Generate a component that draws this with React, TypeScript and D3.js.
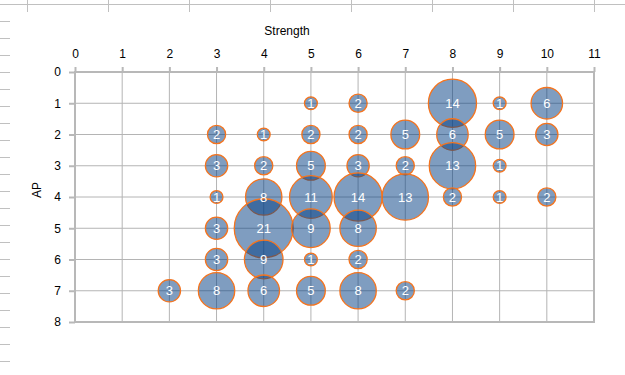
import React, { useEffect, useRef } from "react";
import * as d3 from "d3";

// bubble data: strength (x), AP (y), count
const strength = [5, 6, 8, 9, 10, 3, 4, 5, 6, 7, 8, 9, 10, 3, 4, 5, 6, 7, 8, 9, 3, 4, 5, 6, 7, 8, 9, 10, 3, 4, 5, 6, 3, 4, 5, 6, 2, 3, 4, 5, 6, 7];
const ap = [1, 1, 1, 1, 1, 2, 2, 2, 2, 2, 2, 2, 2, 3, 3, 3, 3, 3, 3, 3, 4, 4, 4, 4, 4, 4, 4, 4, 5, 5, 5, 5, 6, 6, 6, 6, 7, 7, 7, 7, 7, 7];
const counts = [1, 2, 14, 1, 6, 2, 1, 2, 2, 5, 6, 5, 3, 3, 2, 5, 3, 2, 13, 1, 1, 8, 11, 14, 13, 2, 1, 2, 3, 21, 9, 8, 3, 9, 1, 2, 3, 8, 6, 5, 8, 2];

const xTicks = [0, 1, 2, 3, 4, 5, 6, 7, 8, 9, 10, 11];
const yTicks = [0, 1, 2, 3, 4, 5, 6, 7, 8];

export default function App() {
  const ref = useRef<SVGSVGElement>(null);

  useEffect(() => {
    const svg = d3.select(ref.current);
    svg.selectAll("*").remove();

    const width = 625;
    const height = 375;
    const left = 75, right = 594, top = 72, bottom = 322;
    const font = "Liberation Sans, Arial, sans-serif";

    // spreadsheet-like background marks
    svg.append("line").attr("x1", 0).attr("x2", width).attr("y1", 4.5).attr("y2", 4.5)
      .attr("stroke", "#c0c0c0");
    svg.selectAll(".colmark").data(d3.range(27, width, 81)).enter().append("line")
      .attr("x1", (d) => d + 0.5).attr("x2", (d) => d + 0.5).attr("y1", 0).attr("y2", 12)
      .attr("stroke", "#c0c0c0");
    svg.selectAll(".rowmark").data(d3.range(21, height, 17)).enter().append("line")
      .attr("x1", 0).attr("x2", 10).attr("y1", (d) => d + 0.5).attr("y2", (d) => d + 0.5)
      .attr("stroke", "#c0c0c0");

    const x = d3.scaleLinear().domain([0, 11]).range([left, right]);
    const y = d3.scaleLinear().domain([0, 8]).range([top, bottom]);
    const r = d3.scaleSqrt().domain([0, 21]).range([0, 29.5]);

    const g = svg.append("g");

    // grid
    g.selectAll(".vgrid").data(xTicks.slice(1, -1)).enter().append("line")
      .attr("x1", (d) => x(d)).attr("x2", (d) => x(d)).attr("y1", top).attr("y2", bottom)
      .attr("stroke", "#b4b4b4");
    g.selectAll(".hgrid").data(yTicks.slice(1, -1)).enter().append("line")
      .attr("x1", left).attr("x2", right).attr("y1", (d) => y(d)).attr("y2", (d) => y(d))
      .attr("stroke", "#b4b4b4");

    // frame
    g.append("rect").attr("x", left).attr("y", top).attr("width", right - left).attr("height", bottom - top)
      .attr("fill", "none").attr("stroke", "#b8b8b8").attr("stroke-width", 2);

    // top axis
    const xAxis = g.append("g").attr("transform", `translate(0,${top})`)
      .call(d3.axisTop(x).tickValues(xTicks).tickSize(5).tickPadding(9).tickFormat(d3.format("d")));
    xAxis.select(".domain").remove();
    xAxis.selectAll("line").attr("stroke", "#b8b8b8").attr("stroke-width", 2);
    xAxis.selectAll("text").attr("font-size", 12).attr("font-family", font).attr("fill", "#000");

    const yAxis = g.append("g").attr("transform", `translate(${left},0)`)
      .call(d3.axisLeft(y).tickValues(yTicks).tickSize(6).tickPadding(8).tickFormat(d3.format("d")));
    yAxis.select(".domain").remove();
    yAxis.selectAll("line").attr("stroke", "#b8b8b8").attr("stroke-width", 2);
    yAxis.selectAll("text").attr("font-size", 12).attr("font-family", font).attr("fill", "#000");

    // titles
    svg.append("text").attr("x", 287).attr("y", 35).attr("text-anchor", "middle")
      .attr("font-size", 12).attr("font-family", font).text("Strength");
    svg.append("text").attr("transform", "translate(41,190) rotate(-90)").attr("text-anchor", "middle")
      .attr("font-size", 12).attr("font-family", font).text("AP");

    const data = counts.map((c, i) => ({ x: strength[i], y: ap[i], c }));

    g.selectAll(".bubble").data(data).enter().append("circle")
      .attr("cx", (d) => x(d.x)).attr("cy", (d) => y(d.y)).attr("r", (d) => r(d.c))
      .attr("fill", "rgba(0,60,130,0.5)")
      .attr("stroke", "#f5741e").attr("stroke-width", 1.3);

    g.selectAll(".lbl").data(data).enter().append("text")
      .attr("x", (d) => x(d.x)).attr("y", (d) => y(d.y)).attr("dy", "0.36em")
      .attr("text-anchor", "middle").attr("font-size", 13).attr("font-family", font)
      .attr("fill", "#fff").text((d) => d.c);
  }, []);

  return (
    <svg ref={ref} width={625} height={375}
      style={{ position: "absolute", left: 0, top: 0, background: "#fff" }} />
  );
}
